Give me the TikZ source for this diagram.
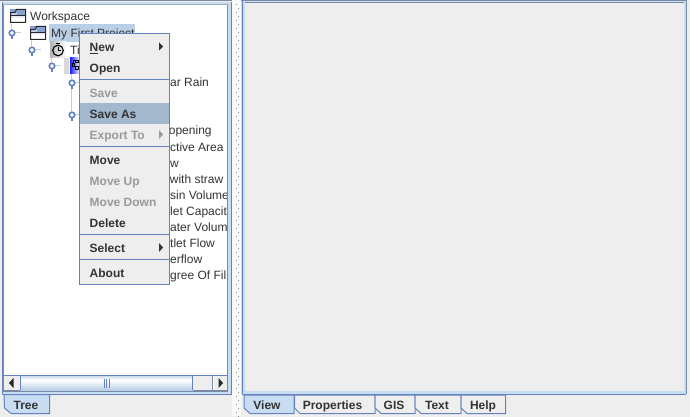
\documentclass[tikz,border=0pt]{standalone}
\usepackage{fontspec}
\setmainfont{Liberation Sans}
\usetikzlibrary{calc}
\definecolor{bgc}{HTML}{EEEEEE}
\definecolor{framec}{HTML}{7A8AA3}
\definecolor{lightb}{HTML}{C8DDF2}
\definecolor{midb}{HTML}{6382BF}
\definecolor{selc}{HTML}{B8CFE5}
\definecolor{hic}{HTML}{A3B8CC}
\definecolor{txtc}{HTML}{333333}
\definecolor{disc}{HTML}{999999}
\definecolor{linec}{HTML}{B8CFE5}
\tikzset{
  treetext/.style={anchor=base west,inner sep=0pt,font=\fontsize{12}{12}\selectfont,text=txtc},
  menutext/.style={anchor=base west,inner sep=0pt,font=\fontsize{12}{12}\selectfont\bfseries,text=txtc},
  menudis/.style={menutext,text=disc},
  tabtext/.style={anchor=base,inner sep=0pt,font=\fontsize{12}{12}\selectfont\bfseries,text=txtc},
  sepline/.style={draw=midb,line width=1pt},
  tabshape/.style={draw=midb,line width=1pt,fill=bgc},
  tabon/.style={draw=midb,line width=1pt,fill=lightb},
  tline/.style={draw=linec,line width=1pt},
  handle/.style={circle,draw=midb,line width=1.6pt,fill=white,minimum size=5.5pt,inner sep=0pt},
  arrowfill/.style={fill=black!85}
}
\newcommand{\folder}[2]{%
  \fill[white] (#1,#2-2) rectangle ++(15.5,12);
  \shade[top color=midb!75,bottom color=white] (#1,#2-2) rectangle ++(15.5,8);
  \draw[black!85,line width=1pt] (#1+.5,#2+10.5) -- (#1+.5,#2+.5) -- (#1+5,#2+.5) -- (#1+6.5,#2-2.5) -- (#1+15.5,#2-2.5) -- (#1+15.5,#2+10.5) -- cycle;
  \draw[black!85,line width=.8pt] (#1+.5,#2+3.5) -- (#1+15,#2+3.5);
  \fill[midb!75] (#1+7,#2-2) rectangle (#1+15,#2+3);
}
\newcommand{\hnd}[3]{%
  \draw[tline] (#1,#2) -- ++(9,0);
  \draw[midb,line width=1.7pt] (#1,#2) -- ++(0,6.5);
  \node[handle] (#3) at (#1,#2) {};
}
\begin{document}
\begin{tikzpicture}[x=1pt,y=-1pt]
\useasboundingbox (0,0) rectangle (690,417);
\fill[bgc] (0,0) rectangle (690,417);
% splitter background
\fill[black!2] (232,0) rectangle (241,416);
% left panel
\fill[lightb] (2,2) rectangle (231,394);
\draw[framec,line width=1pt] (0,.5) -- (232,.5);
\draw[midb,line width=1pt] (2.5,2) -- (2.5,394.5) -- (231.5,394.5) -- (231.5,2);
\fill[white] (4,5) rectangle (227,375);
\draw[framec,line width=1.2pt] (3.5,4) -- (3.5,391.5) -- (227.5,391.5) -- (227.5,4);
\draw[framec!70,line width=.8pt] (3,4.5) -- (228,4.5);
% tree lines
\draw[tline] (11.5,24) -- (11.5,30);
\draw[tline] (31.5,40) -- (31.5,46);
\draw[tline] (51.5,56) -- (51.5,62);
\draw[tline] (71.5,74) -- (71.5,114);
% tree
\folder{10}{12}
\node[treetext] (wk) at (30,20.3) {Workspace};
\fill[selc] (49,24) rectangle (135,42);
\folder{30}{29}
\node[treetext] (pr) at (51,37.5) {My First Project};
\hnd{12}{33}{h1}
\shade[left color=black!30,right color=white] (50,42) rectangle (66,58);
\draw[black,line width=1.1pt] (58,50.5) circle (5.3);
\draw[black,line width=.9pt] (58,50.5) -- (58,47) (58,50.5) -- (61,50.5) (56,43.7) -- (60,43.7);
\node[treetext] (ti) at (70,55) {Ti};
\hnd{32}{50}{h2}
\fill[black!15] (64,58) rectangle (69,74);
\shade[left color=blue!90,right color=white] (70,58) rectangle (80,74);
\draw[black,line width=1pt] (75.5,60.5) rectangle (78.5,63) (75.5,67) rectangle (78.5,70) (72,64) rectangle (74.5,66.5) (73,64) -- (73,60.5) -- (75.5,60.5);
\hnd{52}{66}{h3}
\hnd{72}{83}{h4}
\hnd{72}{115}{h5}
% occluded labels
\begin{scope}
\clip (170,70) rectangle (226.5,290);
\node[treetext] at (170,87) {ar Rain};
\node[treetext] at (168.7,135) {opening};
\node[treetext] at (170,151) {ctive Area};
\node[treetext] at (170,167) {w};
\node[treetext] at (169.7,183) {with straw};
\node[treetext] at (170,199) {sin Volume};
\node[treetext] at (170,215) {let Capacit};
\node[treetext] at (170,231) {ater Volume};
\node[treetext] at (170,247) {tlet Flow};
\node[treetext] at (170,263) {erflow};
\node[treetext] at (170,279) {gree Of Fil};
\end{scope}
% scrollbar
\fill[bgc] (4,375) rectangle (227,391);
\draw[midb,line width=1pt] (4,375.5) -- (227,375.5);
\draw[framec,line width=1pt] (4,390.5) -- (227,390.5);
\shade[top color=selc!70,bottom color=white] (20,376) rectangle (193,380);
\shade[top color=white,bottom color=selc] (20,380) rectangle (193,390);
\draw[midb,line width=1pt] (20.5,376) -- (20.5,390) (192.5,376) -- (192.5,390);
\draw[midb,line width=.8pt] (104.5,379) -- (104.5,388) (106.8,379) -- (106.8,388) (109,379) -- (109,388);
\draw[framec,line width=.8pt] (212,376) -- (212,390);
\fill[white] (213,376) rectangle (214,390);
\fill[arrowfill] (9,383) -- (13.5,378) -- (13.5,388) -- cycle;
\fill[arrowfill] (223,383) -- (218.5,378) -- (218.5,388) -- cycle;
% tree tab
\path[tabon] (4,394.5) -- (49.5,394.5) -- (49.5,413.5) -- (11,413.5) -- (4.5,408) -- cycle;
\node[tabtext] (tabtree) at (26,409) {Tree};
% menu
\fill[bgc] (79.5,33.5) rectangle (169.5,284.5);
\fill[hic] (80,103) rectangle (169,124);
\draw[midb,line width=1pt] (79.5,33.5) rectangle (169.5,284.5);
\draw[sepline] (80,79.5) -- (169,79.5) (80,146.5) -- (169,146.5) (80,234.5) -- (169,234.5) (80,259.5) -- (169,259.5);
\node[menutext] (mNew) at (89.5,51.4) {\underline{N}ew};
\node[menutext] (mOpen) at (89.5,72.4) {Open};
\node[menudis] (mSave) at (89.5,97.4) {Save};
\node[menutext] (mSaveAs) at (89.5,118.2) {Save As};
\node[menudis] (mExport) at (89.5,139.4) {Export To};
\node[menutext] (mMove) at (89.5,164) {Move};
\node[menudis] (mUp) at (89.5,185) {Move Up};
\node[menudis] (mDown) at (89.5,206) {Move Down};
\node[menutext] (mDel) at (89.5,227) {Delete};
\node[menutext] (mSel) at (89.5,252) {Select};
\node[menutext] (mAbout) at (89.5,277) {About};
\fill[txtc] (159,42.5) -- (163,46.5) -- (159,50.5) -- cycle;
\fill[disc] (159,130) -- (163,134.5) -- (159,139) -- cycle;
\fill[txtc] (159,243) -- (163,247.5) -- (159,252) -- cycle;
% splitter
\foreach \i in {0,...,51}{
  \fill[black!45] (236,{4+\i*8}) rectangle ++(1.3,1.3);
  \fill[black!45] (238,{8+\i*8}) rectangle ++(1.3,1.3);
}
% right panel
\fill[lightb] (241,0) rectangle (687,394);
\draw[framec,line width=1pt] (241,.5) -- (687,.5);
\draw[midb,line width=1pt] (242.5,1) -- (242.5,394.5) -- (686,394.5);
\draw[framec,line width=1.5pt] (686.5,0) -- (686.5,394);
\fill[bgc] (245,3) rectangle (684,391);
\draw[framec,line width=1pt] (244.5,2.5) -- (684,2.5);
% right tabs
\path[tabshape] (294.5,395) -- (375,395) -- (375,413.5) -- (300,413.5) -- (294.5,408) -- cycle;
\path[tabshape] (375,395) -- (415,395) -- (415,413.5) -- (381,413.5) -- (375,408) -- cycle;
\path[tabshape] (415,395) -- (461,395) -- (461,413.5) -- (421,413.5) -- (415,408) -- cycle;
\path[tabshape] (461,395) -- (505.5,395) -- (505.5,413.5) -- (467,413.5) -- (461,408) -- cycle;
\path[tabon] (244,395) -- (294,395) -- (294,413.5) -- (250,413.5) -- (244,408) -- cycle;
\node[tabtext] (tView) at (267,409) {View};
\node[tabtext] (tProp) at (332.5,409) {Properties};
\node[tabtext] (tGis) at (394,409) {GIS};
\node[tabtext] (tText) at (437,409) {Text};
\node[tabtext] (tHelp) at (483,409) {Help};
\end{tikzpicture}
\end{document}
